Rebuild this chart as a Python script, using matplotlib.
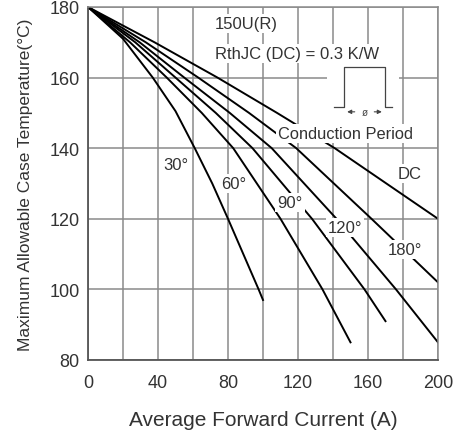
import matplotlib.pyplot as plt
from matplotlib.patches import Rectangle

plt.rcParams['font.family'] = ['Liberation Sans', 'DejaVu Sans']

# Curves: (current A, case temp °C)
i_30 = [0, 20, 37, 50, 61, 71, 80, 97.5, 100]
t_30 = [180, 171, 160, 150.5, 140, 130, 120, 100, 97]

i_60 = [0, 24, 45, 65, 83, 110, 134, 150]
t_60 = [180, 170, 160, 150, 140, 120, 100, 85]

i_90 = [0, 27, 50, 73, 94, 128, 158, 170]
t_90 = [180, 170, 160, 150, 140, 120, 100, 91]

i_120 = [0, 29.5, 55, 81, 105, 142, 176, 200]
t_120 = [180, 170, 160, 150, 140, 120, 100, 85]

i_180 = [0, 33, 63, 92, 119, 162, 200]
t_180 = [180, 170, 160, 150, 140, 120, 102]

i_dc = [0, 38, 74, 108, 141, 200]
t_dc = [180, 170, 160, 150, 140, 120]

curve_labels = ["30°", "60°", "90°", "120°", "180°", "DC"]
label_pos = [(50, 135.5), (83.5, 130), (115.5, 124.5), (147, 117.4), (181, 111.4), (184, 132.7)]

y_ticks = [80, 100, 120, 140, 160, 180]

fig = plt.figure(figsize=(4.61, 4.39), dpi=100)
ax = fig.add_axes([0.1909, 0.1777, 0.7592, 0.8041])

ax.set_xlim(0, 200)
ax.set_ylim(80, 180)
ax.set_xticks(range(0, 201, 20))
ax.set_xticklabels(["0", "", "40", "", "80", "", "120", "", "160", "", "200"])
ax.set_yticks(y_ticks)
ax.grid(True, color="#8a8a8a", linewidth=1.1, zorder=0)
ax.set_axisbelow(True)
ax.tick_params(length=0, labelsize=13, labelcolor="#333333")
ax.tick_params(axis="x", pad=10)
ax.tick_params(axis="y", pad=6)
for side in ["left", "bottom"]:
    ax.spines[side].set_color("#555555")
    ax.spines[side].set_linewidth(1.3)
for side in ["top", "right"]:
    ax.spines[side].set_color("#8a8a8a")
    ax.spines[side].set_linewidth(1.1)

# white area behind the conduction period sketch
ax.add_patch(Rectangle((136.5, 145), 41.5, 19.5, facecolor="white", edgecolor="none", zorder=1))

for xs, ys in [(i_30, t_30), (i_60, t_60), (i_90, t_90), (i_120, t_120), (i_180, t_180), (i_dc, t_dc)]:
    ax.plot(xs, ys, color="black", linewidth=1.4, zorder=2)

box = dict(facecolor="white", edgecolor="none", pad=1.5)
for lab, (x, y) in zip(curve_labels, label_pos):
    ax.text(x, y, lab, fontsize=12, color="#333333", ha="center", va="center", bbox=box, zorder=3)

ax.text(72.5, 175.2, "150U(R)", fontsize=12, color="#333333", ha="left", va="center", bbox=box, zorder=3)
ax.text(72.5, 166.7, "RthJC (DC) = 0.3 K/W", fontsize=12, color="#333333", ha="left", va="center", bbox=box, zorder=3)
ax.text(147, 144.2, "Conduction Period", fontsize=11.8, color="#333333", ha="center", va="center", bbox=box, zorder=3)

# small pulse sketch
px = [140.5, 146.5, 146.5, 169.5, 169.5, 173.5]
py = [151.7, 151.7, 163.0, 163.0, 151.7, 151.7]
ax.plot(px, py, color="#444444", linewidth=0.9, zorder=3)
ax.annotate("", xy=(146.5, 150.3), xytext=(154, 150.3),
            arrowprops=dict(arrowstyle="-|>", color="#444444", lw=0.8, mutation_scale=6), zorder=3)
ax.annotate("", xy=(169.5, 150.3), xytext=(162, 150.3),
            arrowprops=dict(arrowstyle="-|>", color="#444444", lw=0.8, mutation_scale=6), zorder=3)
ax.text(158, 150.3, "ø", fontsize=7, color="#444444", ha="center", va="center", zorder=3)

ax.set_xlabel("Average Forward Current (A)", fontsize=15, color="#333333", labelpad=14)
ax.set_ylabel("Maximum Allowable Case Temperature(°C)", fontsize=12.5, color="#333333", labelpad=12)

fig.savefig("out.png", dpi=100)
